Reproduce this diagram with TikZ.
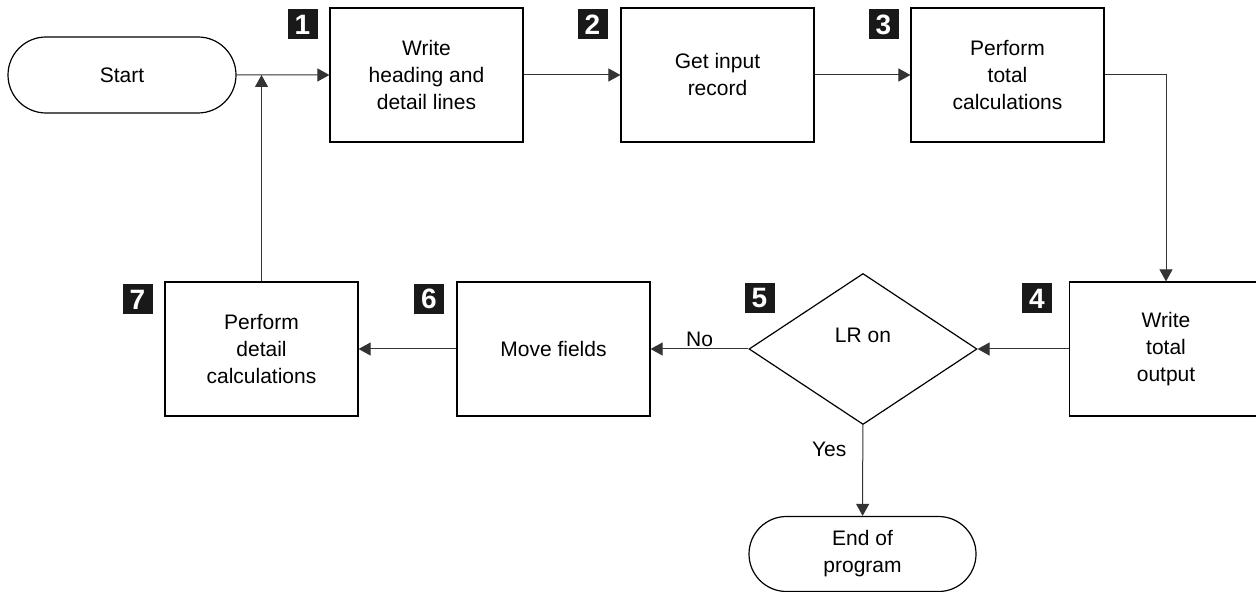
\documentclass[tikz,border=0pt]{standalone}
\usepackage{fontspec}
\setmainfont{Liberation Sans}
\usepackage{tikz}
\usetikzlibrary{shapes.geometric,shapes.misc,arrows.meta}
\newcommand{\flowfont}{\fontsize{10.5}{13.5}\selectfont}
\tikzset{
    flowbox/.style={
        draw,
        rectangle,
        line width=0.6pt,
        minimum width=96.5pt,
        minimum height=67pt,
        inner sep=0pt,
        align=center,
        font=\flowfont
    },
    terminal/.style={
        draw,
        rounded rectangle,
        line width=0.6pt,
        minimum width=114pt,
        minimum height=38pt,
        inner sep=0pt,
        align=center,
        font=\flowfont
    },
    decision/.style={
        draw,
        diamond,
        line width=0.6pt,
        minimum width=114pt,
        minimum height=75.5pt,
        inner sep=0pt
    },
    numtag/.style={
        fill=black!90,
        text=white,
        minimum size=15pt,
        inner sep=0pt,
        font=\fontsize{14}{14}\selectfont\bfseries
    },
    flow/.style={
        draw=black!80,
        line width=0.5pt,
        -{Triangle[length=6pt,width=6.5pt]}
    }
}
\newcommand{\numtag}[3] {
    \node[numtag] (tag#3) at ({#1}, {#2}) {#3};
}

\begin{document}
\begin{tikzpicture}[x=0.5pt, y=-0.5pt]
    \useasboundingbox (0,0) rectangle (1256,592);
    % top row
    \node[terminal] (start) at (122,75) {Start};
    \node[flowbox] (write) at (426.5,75) {Write\\heading and\\detail lines};
    \node[flowbox] (getrec) at (717.5,75) {Get input\\record};
    \node[flowbox] (perftot) at (1007.5,75) {Perform\\total\\calculations};
    % bottom row
    \node[flowbox] (writetot) at (1166,349) {Write\\total\\output};
    \node[decision, label={[font=\flowfont, yshift=7pt]center:LR on}] (lr) at (863,349) {};
    \node[flowbox] (move) at (553.5,349) {Move fields};
    \node[flowbox] (perfdet) at (261.5,349) {Perform\\detail\\calculations};
    \node[terminal, minimum width=113.5pt, minimum height=37.5pt] (endprog) at (862.5,554) {End of\\program};
    % step numbers
    \numtag{302.5}{24.5}{1}
    \numtag{592.5}{24.5}{2}
    \numtag{883.5}{24.5}{3}
    \numtag{1037}{298.5}{4}
    \numtag{759.5}{298.5}{5}
    \numtag{429}{299}{6}
    \numtag{137.5}{299.5}{7}
    % connectors
    \coordinate (join) at (perfdet.north |- start);
    \draw[flow] (start) -- (write);
    \draw[flow] (write) -- (getrec);
    \draw[flow] (getrec) -- (perftot);
    \draw[flow] (perftot) -| (writetot);
    \draw[flow] (writetot) -- (lr);
    \draw[flow] (lr) -- node[above=1pt, inner sep=0pt, font=\flowfont] {No} (move);
    \draw[flow] (move) -- (perfdet);
    \draw[flow] (perfdet) -- (join);
    \draw[flow] (lr) -- node[pos=0.27, left=8pt, inner sep=0pt, font=\flowfont] {Yes} (endprog);
\end{tikzpicture}
\end{document}
